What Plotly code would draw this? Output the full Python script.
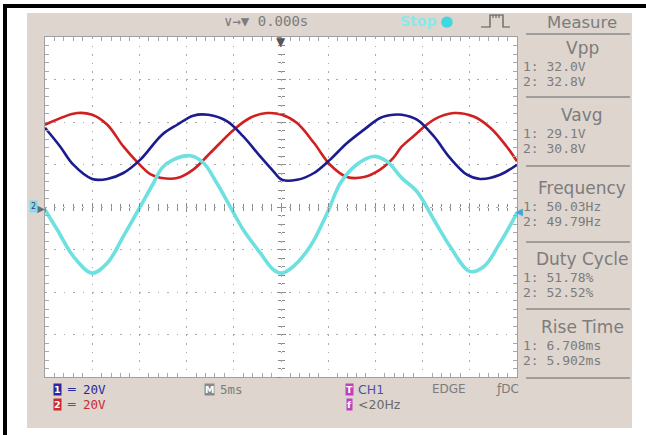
import plotly.graph_objects as go

# ---------------- data (time in ms, voltage in V) ----------------
red_t = [-25.0, -21.6, -20.0, -18.4, -16.7, -15.3, -13.8, -12.8, -11.0, -9.3, -7.5, -5.0, -3.3, -1.5, 0.1,
         1.7, 3.5, 5.2, 7.0, 8.8, 10.5, 11.9, 12.8, 14.0, 16.2, 18.3, 20.4, 22.2, 23.9, 25.0]
red_v = [38.7, 44.2, 43.4, 38.7, 28.5, 21.5, 15.3, 13.8, 13.6, 17.6, 25.4, 36.4, 41.9, 44.2, 43.4,
         39.5, 30.1, 19.9, 14.1, 14.1, 17.6, 23.1, 28.5, 33.2, 41.1, 44.2, 42.6, 37.2, 28.5, 21.5]

blue_t = [-25.0, -23.4, -22.0, -20.0, -18.4, -16.7, -14.9, -12.6, -11.0, -9.3, -7.7, -5.7, -4.0, -2.2, -0.8,
          0.1, 1.7, 3.5, 5.2, 7.0, 8.8, 10.5, 11.9, 12.8, 14.4, 16.2, 17.9, 19.7, 21.1, 23.2, 25.0]
blue_v = [37.3, 28.5, 19.9, 13.2, 13.2, 16.0, 22.3, 34.0, 38.7, 43.0, 43.4, 40.3, 33.2, 23.8, 16.8,
          12.8, 12.8, 16.0, 22.3, 30.1, 36.4, 41.9, 43.4, 43.4, 41.1, 33.2, 23.1, 15.2, 13.2, 15.2, 19.9]

cyan_t = [-25.0, -23.7, -22.0, -20.0, -18.4, -16.7, -14.9, -13.5, -12.6, -11.4, -9.6, -8.2, -6.8, -5.4, -4.0,
          -2.2, -0.8, 0.1, 1.3, 3.1, 4.9, 6.3, 8.0, 9.8, 11.2, 12.8, 14.4, 16.2, 17.9, 20.0, 21.5, 23.2, 25.0]
cyan_v = [-1.3, -10.7, -23.2, -31.1, -26.4, -13.8, 0.3, 11.3, 18.4, 22.3, 24.1, 20.7, 11.3, 0.3, -10.7,
          -21.6, -29.5, -31.1, -28.0, -18.5, -2.8, 11.3, 19.9, 23.8, 21.5, 13.6, 7.3, -6.0, -18.5, -30.3, -28.0, -16.9, -2.8]

measure_titles = ["Vpp", "Vavg", "Frequency", "Duty Cycle", "Rise Time"]
measure_ch1 = ["1: 32.0V", "1: 29.1V", "1: 50.03Hz", "1: 51.78%", "1: 6.708ms"]
measure_ch2 = ["2: 32.8V", "2: 30.8V", "2: 49.79Hz", "2: 52.52%", "2: 5.902ms"]

# ---------------- layout geometry ----------------
W, H = 646, 435
ML, MT, PW, PH = 45, 37, 472, 340
MR, MB = W - ML - PW, H - MT - PH


def px(x):
    return (x - ML) / PW


def py(y):
    return 1 - (y - MT) / PH


GRID = "#a9a9a9"
TXT = "#7c7c7c"
MONO = "DejaVu Sans Mono"
SANS = "DejaVu Sans"

fig = go.Figure()
fig.add_trace(go.Scatter(x=red_t, y=red_v, mode="lines", line=dict(color="#d02020", width=2.6, shape="spline"),
                         hoverinfo="skip", showlegend=False))
fig.add_trace(go.Scatter(x=blue_t, y=blue_v, mode="lines", line=dict(color="#1c1c8e", width=2.6, shape="spline"),
                         hoverinfo="skip", showlegend=False))
fig.add_trace(go.Scatter(x=cyan_t, y=cyan_v, mode="lines", line=dict(color="#6fe0e0", width=3.6, shape="spline"),
                         hoverinfo="skip", showlegend=False))
# helper traces so the crosshair tick axes are drawn
for xa, ya in [("x2", "y"), ("x3", "y"), ("x", "y2"), ("x", "y3")]:
    fig.add_trace(go.Scatter(x=[None], y=[None], xaxis=xa, yaxis=ya, showlegend=False, hoverinfo="skip"))

base_x = dict(range=[-25, 25], tickmode="linear", tick0=-25, dtick=5, showticklabels=False, zeroline=False)
base_y = dict(range=[-80, 80], tickmode="linear", tick0=-80, dtick=20, showticklabels=False, zeroline=False)

fig.update_layout(
    width=W, height=H, margin=dict(l=ML, r=MR, t=MT, b=MB),
    paper_bgcolor="white", plot_bgcolor="rgba(0,0,0,0)", hovermode=False,
    xaxis=dict(**base_x, showgrid=True, gridcolor=GRID, gridwidth=1, griddash="1.5px,7px",
               showline=True, linecolor="#a0a0a0", linewidth=1, mirror="ticks",
               ticks="inside", ticklen=0, tickcolor=GRID,
               minor=dict(dtick=1, ticks="inside", ticklen=4, tickcolor=GRID, showgrid=False)),
    yaxis=dict(**base_y, showgrid=True, gridcolor=GRID, gridwidth=1, griddash="1.5px,7.9px",
               showline=True, linecolor="#a0a0a0", linewidth=1, mirror="ticks",
               ticks="inside", ticklen=0, tickcolor=GRID,
               minor=dict(dtick=4, ticks="inside", ticklen=4, tickcolor=GRID, showgrid=False)),
    xaxis2=dict(**base_x, overlaying="x", anchor="free", position=0.5, showgrid=False, showline=False,
                ticks="outside", ticklen=4, tickcolor="#8a8a8a",
                minor=dict(dtick=1, ticks="outside", ticklen=3, tickcolor="#8a8a8a")),
    xaxis3=dict(**base_x, overlaying="x", anchor="free", position=0.5, showgrid=False, showline=False,
                ticks="inside", ticklen=4, tickcolor="#8a8a8a",
                minor=dict(dtick=1, ticks="inside", ticklen=3, tickcolor="#8a8a8a")),
    yaxis2=dict(**base_y, overlaying="y", anchor="free", position=0.5, showgrid=False, showline=False,
                ticks="outside", ticklen=4, tickcolor="#8a8a8a",
                minor=dict(dtick=4, ticks="outside", ticklen=3, tickcolor="#8a8a8a")),
    yaxis3=dict(**base_y, overlaying="y", anchor="free", position=0.5, showgrid=False, showline=False,
                ticks="inside", ticklen=4, tickcolor="#8a8a8a",
                minor=dict(dtick=4, ticks="inside", ticklen=3, tickcolor="#8a8a8a")),
)

shapes = []
# black frame (top & left)
shapes.append(dict(type="rect", xref="paper", yref="paper", x0=px(3), x1=px(646), y0=py(8), y1=py(4),
                   fillcolor="black", line=dict(width=0), layer="below"))
shapes.append(dict(type="rect", xref="paper", yref="paper", x0=px(3), x1=px(7), y0=py(435), y1=py(4),
                   fillcolor="black", line=dict(width=0), layer="below"))
# beige instrument screen
shapes.append(dict(type="rect", xref="paper", yref="paper", x0=px(27), x1=px(632), y0=py(428), y1=py(13),
                   fillcolor="#ddd5ce", line=dict(width=0), layer="below"))
# white graticule
shapes.append(dict(type="rect", xref="paper", yref="paper", x0=0, x1=1, y0=0, y1=1,
                   fillcolor="white", line=dict(width=0), layer="below"))

annotations = []


def text(x, y, s, size, color=TXT, family=MONO, anchor="left"):
    annotations.append(dict(xref="paper", yref="paper", x=px(x), y=py(y), text=s, showarrow=False,
                            xanchor=anchor, yanchor="middle", font=dict(size=size, color=color, family=family)))


# header
text(222, 21, "∨→▼ 0.000s", 14)
text(398, 21, "<b>Stop</b>", 14, color="#8ae8ea", family=SANS)
annotations.append(dict(xref="paper", yref="paper", x=px(446), y=py(21), text="●", showarrow=False,
                        xanchor="center", yanchor="middle", font=dict(size=15, color="#3fd8e0", family=SANS)))
# pulse icon
pulse = "M {} {} L {} {} L {} {} L {} {} L {} {} L {} {}".format(
    px(481), py(27), px(490), py(27), px(490), py(15), px(503), py(15), px(503), py(27), px(510), py(27))
shapes.append(dict(type="path", xref="paper", yref="paper", path=pulse, line=dict(color="#555", width=1.2)))
for xx in [493, 496, 499]:
    shapes.append(dict(type="line", xref="paper", yref="paper", x0=px(xx), x1=px(xx), y0=py(15), y1=py(18),
                       line=dict(color="#555", width=1)))

# measure panel
text(582, 23, "Measure", 16.5, family=SANS, anchor="center")
shapes.append(dict(type="line", xref="paper", yref="paper", x0=px(526), x1=px(630), y0=py(34), y1=py(34),
                   line=dict(color="#8a8a8a", width=1.5)))
sec_top = [48, 115, 188, 259, 327]
sec_line = [97, 166, 242, 309, 378]
for i, title in enumerate(measure_titles):
    y0 = sec_top[i]
    text(582, y0, title, 17, family=SANS, anchor="center")
    text(521, y0 + 18.5, measure_ch1[i], 13)
    text(521, y0 + 33.5, measure_ch2[i], 13)
    shapes.append(dict(type="line", xref="paper", yref="paper", x0=px(526), x1=px(630),
                       y0=py(sec_line[i]), y1=py(sec_line[i]), line=dict(color="#8a8a8a", width=1.5)))

# trigger / channel markers
annotations.append(dict(xref="paper", yref="paper", x=px(281), y=py(42), text="▼", showarrow=False,
                        xanchor="center", yanchor="middle", font=dict(size=12, color="#555", family=SANS)))
annotations.append(dict(xref="paper", yref="paper", x=px(41), y=py(208), text="▶", showarrow=False,
                        xanchor="center", yanchor="middle", font=dict(size=10, color="#607070", family=SANS)))
annotations.append(dict(xref="paper", yref="paper", x=px(33), y=py(206), text="2", showarrow=False,
                        xanchor="center", yanchor="middle", bgcolor="#8ad8e8",
                        font=dict(size=8, color="#304080", family=SANS)))
annotations.append(dict(xref="paper", yref="paper", x=px(519), y=py(212), text="◀", showarrow=False,
                        xanchor="center", yanchor="middle", font=dict(size=10, color="#3fa8d8", family=SANS)))


def badge(x, y, s, bg):
    annotations.append(dict(xref="paper", yref="paper", x=px(x), y=py(y), text="<b>" + s + "</b>",
                            showarrow=False, xanchor="center", yanchor="middle", bgcolor=bg, borderpad=0,
                            font=dict(size=9.5, color="white", family=SANS)))


# bottom status line
R1, R2 = 389, 404
badge(57, R1, "1", "#2a2a9a")
text(65, R1, "═ 20V", 12.5, color="#2a2a9a")
badge(57, R2, "2", "#cc2a2a")
text(65, R2, "═ 20V", 12.5, color="#cc2a2a")
badge(209, R1, "M", "#8a8a8a")
text(218, R1, "5ms", 12.5)
badge(349, R1, "T", "#c040c0")
text(356, R1, "CH1", 12.5, color="#5050a8", family=SANS)
text(430, R1, "EDGE", 12, family=SANS)
text(494, R1, "ƒDC", 12, family=SANS)
badge(349, R2, "f", "#c040c0")
text(356, R2, "<20Hz", 12.5, color="#6a6a6a", family=SANS)

fig.update_layout(shapes=shapes, annotations=annotations)
fig.write_html("out.html", config={"displayModeBar": False},
               post_script="document.body.style.margin='0';document.body.style.overflow='hidden';")
